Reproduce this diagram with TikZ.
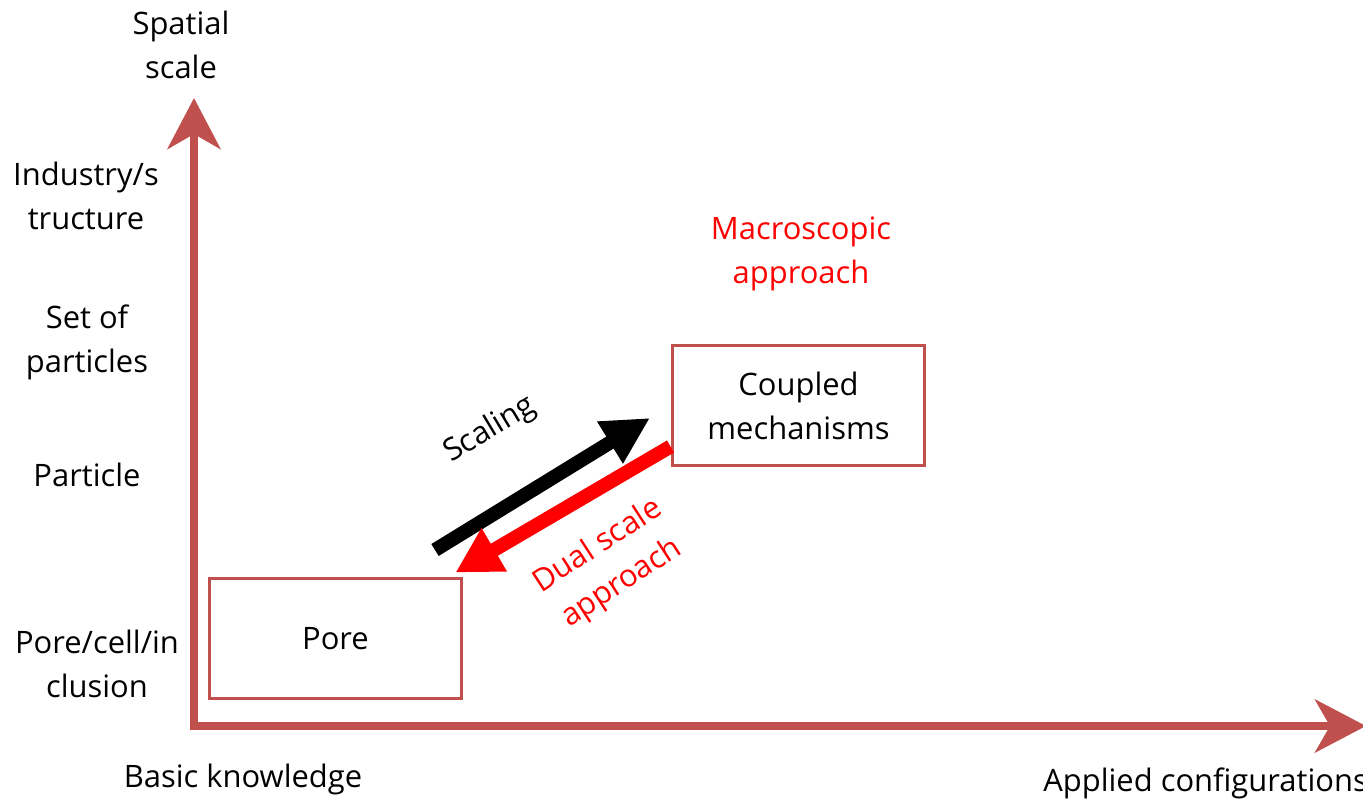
\documentclass[tikz,border=0pt]{standalone}
\usepackage{fontspec}
\setmainfont{Open Sans}
\usepackage{tikz}
\usetikzlibrary{positioning}
\usetikzlibrary{arrows.meta}
\definecolor{axisred}{RGB}{192,80,77}

\begin{document}
\begin{tikzpicture}[x=0.02cm,y=-0.02cm,
                    every node/.style={font=\fontsize{17.6}{25}\selectfont,
                      align=center,
                      inner sep=0pt},
                    axis/.style={draw=axisred,
                      line width=0.16cm,
                      line cap=rect,
                      -{Stealth[length=1.02cm,width=1.06cm,inset=0.3cm]}},
                    box/.style={draw=axisred,
                      line width=0.06cm,
                      minimum width = 5.06cm,
                      minimum height = 2.42cm},
                    scalearrow/.style={line width=0.28cm,
                      -{Triangle[length=0.94cm,width=0.92cm]}},
                    dualarrow/.style={draw=red,
                      line width=0.28cm,
                      -{Triangle[length=0.9cm,width=0.94cm]}}]
\useasboundingbox (0,0) rectangle (1363,801);
\coordinate (o) at (194,726);
\coordinate (ytip) at (194,98);
\coordinate (xtip) at (1366,726);
\draw[axis] (o) -- (ytip);
\draw[axis] (o) -- (xtip);
\node (yname) at (181,45) {Spatial\\scale};
\node (industry) at (86,196) {Industry/s\\tructure};
\node (setof) at (87,342) {Set of\\particles};
\node (particle) at (87,475) {Particle};
\node (porecell) at (97,664) {Pore/cell/in\\clusion};
\node (basic) at (243,779) {Basic knowledge};
\node (applied) [anchor=west] at (1043,783) {Applied configurations};
\node (macro) [text=red] at (801,254) {Macroscopic\\approach};
\node (pore) [box] at (335.5,638.5) {Pore};
\node (coupled) [box] at (798.5,405.5) {Coupled\\mechanisms};
\coordinate (sc-a) at (435,550);
\coordinate (sc-b) at (650,418);
\draw[scalearrow] (sc-a) -- (sc-b);
\draw[dualarrow] ([yshift=0.42cm]coupled.south west) -- ([xshift=-0.16cm,yshift=0.08cm]pore.north east);
\node (scaling) [rotate=31] at (490,430) {Scaling};
\node (dual) [rotate=33, text=red] at (610,565) {Dual scale\\approach};
\end{tikzpicture}
\end{document}
